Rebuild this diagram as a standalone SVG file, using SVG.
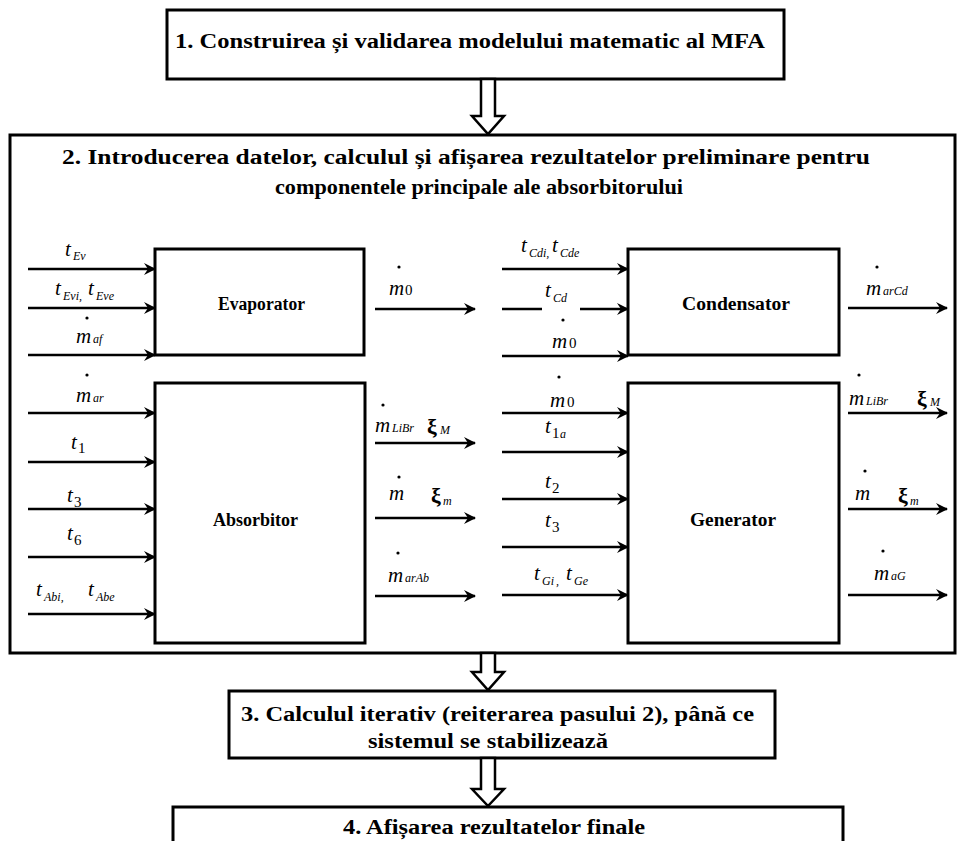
<svg xmlns="http://www.w3.org/2000/svg" width="963" height="841" viewBox="0 0 963 841">
<style>
.box{fill:#fff;stroke:#000;stroke-width:3}
.blk{fill:none;stroke:#000;stroke-width:3}
.ar{stroke:#000;stroke-width:2.6;fill:none;marker-end:url(#ah)}
.ln{stroke:#000;stroke-width:2.6;fill:none}
.hol{fill:#fff;stroke:#000;stroke-width:2.5;stroke-linejoin:miter}
.tt{font-family:'Liberation Serif','DejaVu Serif',serif;font-weight:bold;font-size:20px;fill:#000}
.bl{font-family:'Liberation Serif','DejaVu Serif',serif;font-weight:bold;font-size:18px;fill:#000}
.v{font-family:'Liberation Serif','DejaVu Serif',serif;font-style:italic;font-size:21px;fill:#000}
.s{font-family:'Liberation Serif','DejaVu Serif',serif;font-style:italic;font-size:12px;fill:#000}
.sn{font-family:'Liberation Serif','DejaVu Serif',serif;font-size:15px;fill:#000}
.x{font-family:'Liberation Serif','DejaVu Serif',serif;font-weight:bold;font-size:22px;fill:#000}
.dot{fill:#000}
</style>
<defs>
<marker id="ah" markerUnits="userSpaceOnUse" markerWidth="14" markerHeight="14" refX="12" refY="7" orient="auto" viewBox="0 0 14 14">
<path d="M1,1 L13,7 L1,13 L5,7 z" fill="#000"/>
</marker>
</defs>

<g id="step1">
<rect class="box" x="167" y="10" width="617" height="69"/>
<text class="tt" x="175" y="48" textLength="590" lengthAdjust="spacingAndGlyphs">1. Construirea și validarea modelului matematic al MFA</text>
</g>

<g id="step2">
<rect class="box" x="10" y="135" width="945" height="518"/>
<text class="tt" x="62" y="164" textLength="808" lengthAdjust="spacingAndGlyphs">2. Introducerea datelor, calculul și afișarea rezultatelor preliminare pentru</text>
<text class="tt" x="275" y="194" textLength="408" lengthAdjust="spacingAndGlyphs">componentele principale ale absorbitorului</text>
</g>

<g id="evaporator">
<rect class="blk" x="155" y="249" width="209" height="106"/>
<text class="bl" x="218" y="310" textLength="87" lengthAdjust="spacingAndGlyphs">Evaporator</text>
</g>
<g id="absorbitor">
<rect class="blk" x="155" y="383" width="210" height="260"/>
<text class="bl" x="213" y="526" textLength="85" lengthAdjust="spacingAndGlyphs">Absorbitor</text>
</g>
<g id="condensator">
<rect class="blk" x="628" y="249" width="211" height="106"/>
<text class="bl" x="682" y="310" textLength="108" lengthAdjust="spacingAndGlyphs">Condensator</text>
</g>
<g id="generator">
<rect class="blk" x="628" y="383" width="211" height="260"/>
<text class="bl" x="690" y="526" textLength="86" lengthAdjust="spacingAndGlyphs">Generator</text>
</g>

<g id="step3">
<rect class="box" x="229" y="691" width="546" height="67"/>
<text class="tt" x="241" y="721" textLength="513" lengthAdjust="spacingAndGlyphs">3. Calculul iterativ (reiterarea pasului 2), până ce</text>
<text class="tt" x="368" y="748" textLength="240" lengthAdjust="spacingAndGlyphs">sistemul se stabilizează</text>
</g>

<g id="step4">
<rect class="box" x="173" y="807" width="670" height="40"/>
<text class="tt" x="343" y="834" textLength="302" lengthAdjust="spacingAndGlyphs">4. Afișarea rezultatelor finale</text>
</g>

<g id="connectors">
<polygon class="hol" points="481,79 495,79 495,116 504,116 488,134 472,116 481,116"/>
<polygon class="hol" points="481,653 495,653 495,672 504,672 488,690 472,672 481,672"/>
<polygon class="hol" points="481,758 495,758 495,789 504,789 488,806 472,789 481,789"/>

<line class="ar" x1="28" y1="269" x2="155" y2="269"/>
<line class="ar" x1="28" y1="308" x2="155" y2="308"/>
<line class="ar" x1="28" y1="355" x2="155" y2="355"/>
<line class="ar" x1="28" y1="413" x2="155" y2="413"/>
<line class="ar" x1="28" y1="462" x2="155" y2="462"/>
<line class="ar" x1="28" y1="509" x2="155" y2="509"/>
<line class="ar" x1="28" y1="557" x2="155" y2="557"/>
<line class="ar" x1="28" y1="614" x2="155" y2="614"/>
<line class="ar" x1="375" y1="309" x2="475" y2="309"/>
<line class="ar" x1="375" y1="443" x2="475" y2="443"/>
<line class="ar" x1="375" y1="518" x2="475" y2="518"/>
<line class="ar" x1="375" y1="596" x2="475" y2="596"/>
<line class="ar" x1="502" y1="269" x2="628" y2="269"/>
<line class="ln" x1="502" y1="309" x2="542" y2="309"/>
<line class="ar" x1="580" y1="309" x2="628" y2="309"/>
<line class="ar" x1="502" y1="356" x2="628" y2="356"/>
<line class="ar" x1="502" y1="413" x2="628" y2="413"/>
<line class="ar" x1="502" y1="452" x2="628" y2="452"/>
<line class="ar" x1="502" y1="499" x2="628" y2="499"/>
<line class="ar" x1="502" y1="547" x2="628" y2="547"/>
<line class="ar" x1="502" y1="595" x2="628" y2="595"/>
<line class="ar" x1="848" y1="308" x2="947" y2="308"/>
<line class="ar" x1="848" y1="413" x2="947" y2="413"/>
<line class="ar" x1="848" y1="509" x2="947" y2="509"/>
<line class="ar" x1="848" y1="595" x2="947" y2="595"/>
</g>

<g id="labels">
<text class="v" x="65" y="256">t</text><text class="s" x="73" y="260">Ev</text>
<text class="v" x="55" y="295">t</text><text class="s" x="63" y="300">Evi,</text><text class="v" x="88" y="295">t</text><text class="s" x="96" y="300">Eve</text>
<circle class="dot" cx="87" cy="318" r="1.6"/><text class="v" x="76" y="343">m</text><text class="s" x="93" y="343">af</text>
<circle class="dot" cx="87" cy="375" r="1.6"/><text class="v" x="76" y="402">m</text><text class="s" x="93" y="402">ar</text>
<text class="v" x="71" y="449">t</text><text class="sn" x="78" y="453">1</text>
<text class="v" x="67" y="502">t</text><text class="sn" x="74" y="507">3</text>
<text class="v" x="67" y="540">t</text><text class="sn" x="74" y="545">6</text>
<text class="v" x="36" y="596">t</text><text class="s" x="44" y="601">Abi,</text><text class="v" x="88" y="596">t</text><text class="s" x="96" y="601">Abe</text>
<circle class="dot" cx="399" cy="267" r="1.6"/><text class="v" x="389" y="295">m</text><text class="sn" x="405" y="295">0</text>
<circle class="dot" cx="383" cy="405" r="1.6"/><text class="v" x="375" y="432">m</text><text class="s" x="392" y="432">LiBr</text><text class="x" x="427" y="434">ξ</text><text class="s" x="440" y="434">M</text>
<circle class="dot" cx="399" cy="477" r="1.6"/><text class="v" x="389" y="500">m</text><text class="x" x="431" y="503">ξ</text><text class="s" x="443" y="505">m</text>
<circle class="dot" cx="398" cy="553" r="1.6"/><text class="v" x="388" y="582">m</text><text class="s" x="405" y="582">arAb</text>
<text class="v" x="521" y="252">t</text><text class="s" x="529" y="257">Cdi,</text><text class="v" x="552" y="252">t</text><text class="s" x="560" y="257">Cde</text>
<text class="v" x="545" y="297">t</text><text class="s" x="553" y="302">Cd</text>
<circle class="dot" cx="563" cy="320" r="1.6"/><text class="v" x="552" y="348">m</text><text class="sn" x="569" y="348">0</text>
<circle class="dot" cx="559" cy="377" r="1.6"/><text class="v" x="550" y="407">m</text><text class="sn" x="567" y="407">0</text>
<text class="v" x="545" y="433">t</text><text class="sn" x="552" y="438">1</text><text class="s" x="560" y="438">a</text>
<text class="v" x="545" y="488">t</text><text class="sn" x="552" y="493">2</text>
<text class="v" x="545" y="527">t</text><text class="sn" x="552" y="532">3</text>
<text class="v" x="534" y="580">t</text><text class="s" x="542" y="585">Gi</text><text class="s" x="556" y="585">,</text><text class="v" x="566" y="580">t</text><text class="s" x="574" y="585">Ge</text>
<circle class="dot" cx="877" cy="267" r="1.6"/><text class="v" x="866" y="295">m</text><text class="s" x="883" y="295">arCd</text>
<circle class="dot" cx="859" cy="375" r="1.6"/><text class="v" x="849" y="405">m</text><text class="s" x="866" y="405">LiBr</text><text class="x" x="917" y="406">ξ</text><text class="s" x="930" y="406">M</text>
<circle class="dot" cx="865" cy="471" r="1.6"/><text class="v" x="855" y="500">m</text><text class="x" x="898" y="503">ξ</text><text class="s" x="910" y="505">m</text>
<circle class="dot" cx="883" cy="551" r="1.6"/><text class="v" x="874" y="580">m</text><text class="s" x="891" y="580">aG</text>
</g>
</svg>
